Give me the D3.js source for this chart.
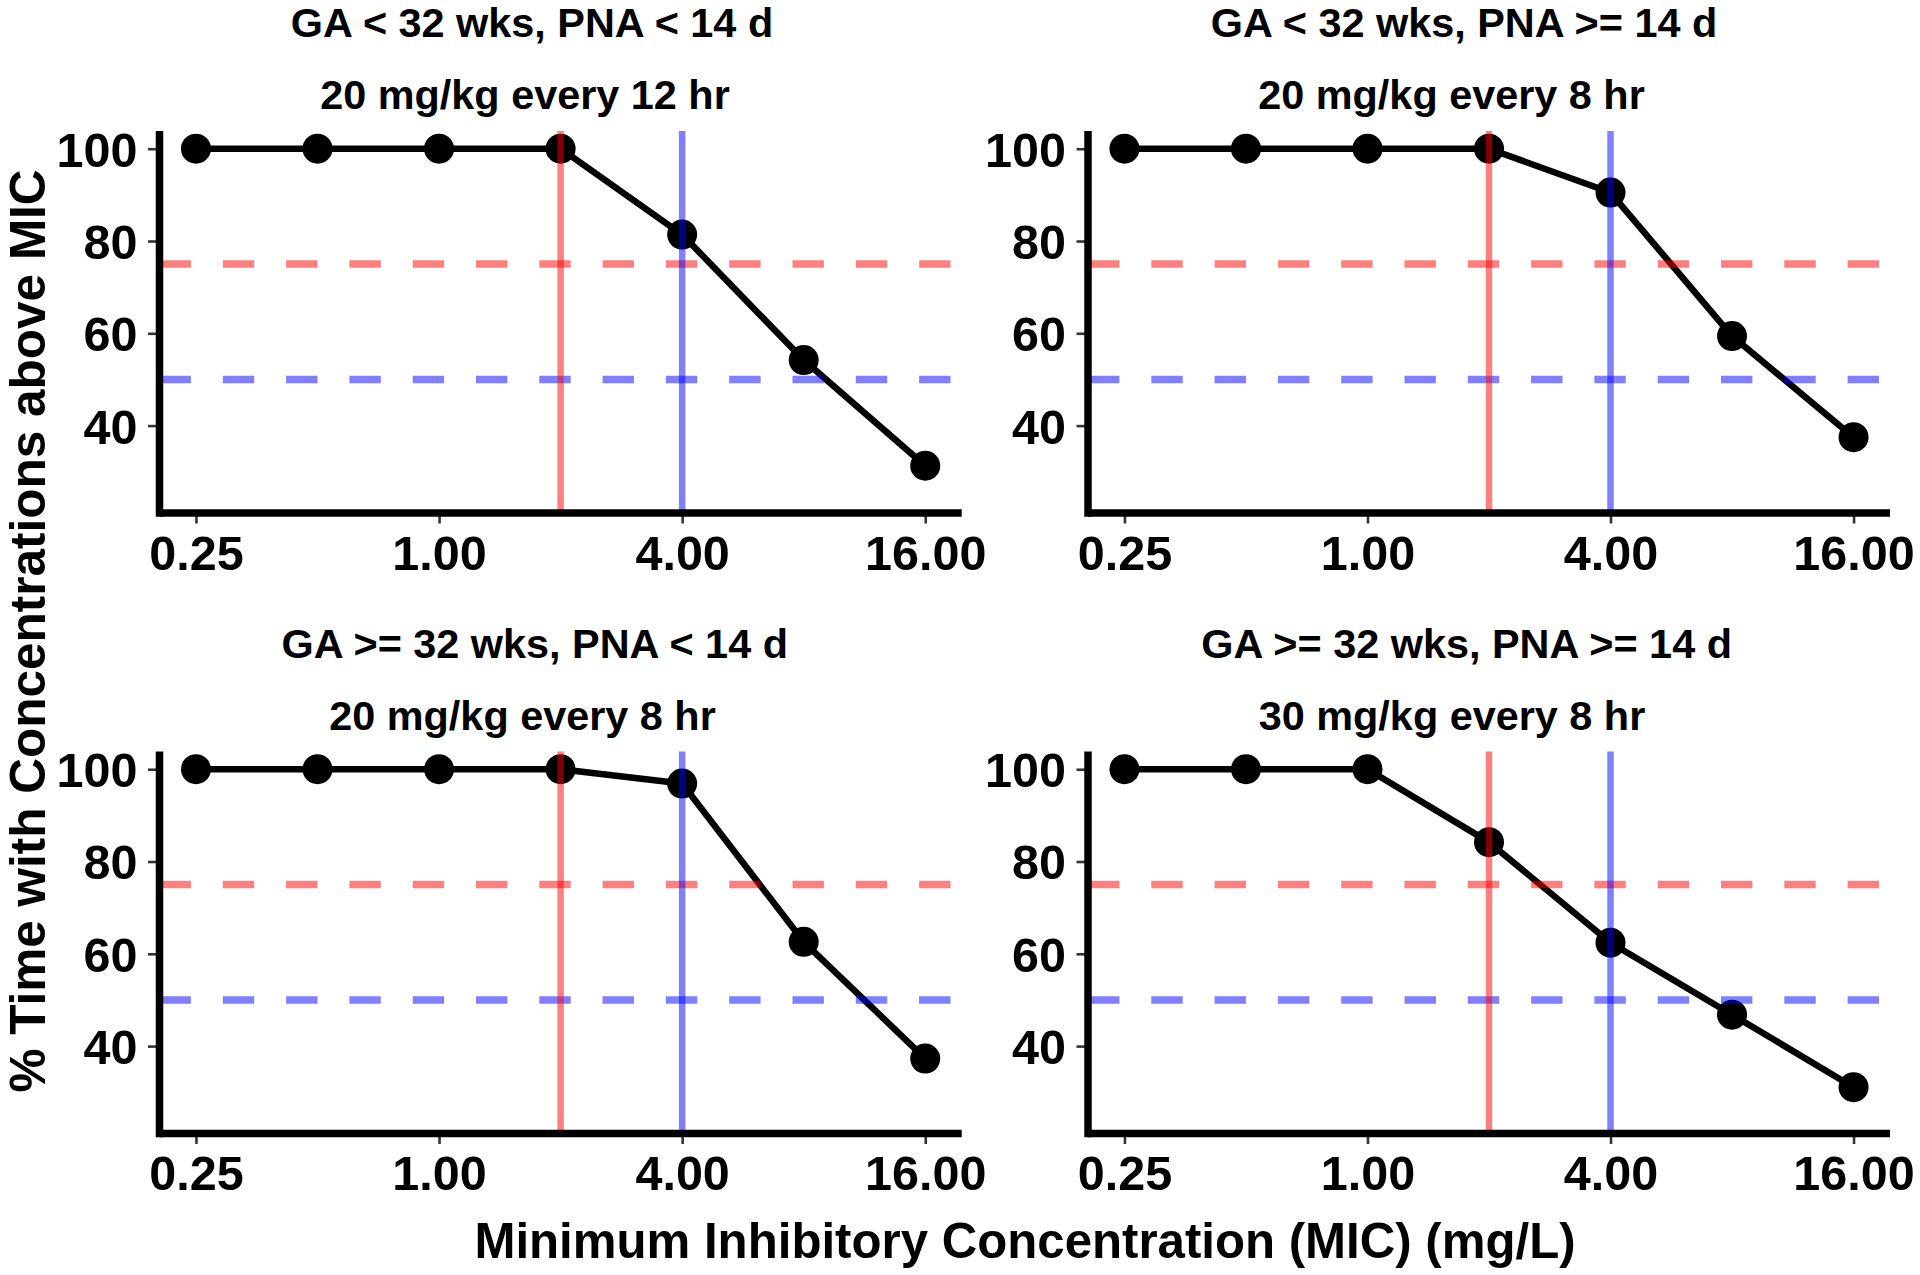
<!DOCTYPE html>
<html>
<head>
<meta charset="utf-8">
<script src="https://cdn.jsdelivr.net/npm/d3@7"></script>
<style>
  html, body { margin: 0; padding: 0; background: #ffffff; }
  svg { display: block; }
  text { font-family: "Liberation Sans", Arial, sans-serif; font-weight: bold; fill: #000; }
</style>
</head>
<body>
<svg id="chart" width="1920" height="1275"></svg>
<script>
// ---- data ----
const micValues = [0.25, 0.5, 1, 2, 4, 8, 16];
const groupTitles = ["GA < 32 wks, PNA < 14 d", "GA < 32 wks, PNA >= 14 d",
                     "GA >= 32 wks, PNA < 14 d", "GA >= 32 wks, PNA >= 14 d"];
const doseTitles = ["20 mg/kg every 12 hr", "20 mg/kg every 8 hr",
                    "20 mg/kg every 8 hr", "30 mg/kg every 8 hr"];
const pctGroup1 = [100, 100, 100, 100, 81.4, 54.2, 31.3];
const pctGroup2 = [100, 100, 100, 100, 90.5, 59.4, 37.5];
const pctGroup3 = [100, 100, 100, 100, 96.9, 62.6, 37.3];
const pctGroup4 = [100, 100, 100, 84.2, 62.4, 46.8, 31.1];
const xTickValues = [0.25, 1, 4, 16];
const xTickLabels = ["0.25", "1.00", "4.00", "16.00"];
const yTickValues = [40, 60, 80, 100];
const targetMIC = [2, 4];          // vertical reference lines
const targetPct = [75, 50];        // horizontal reference lines
const refColors = ["#ff0000", "#0000ff"];
const xTitle = "Minimum Inhibitory Concentration (MIC) (mg/L)";
const yTitle = "% Time with Concentrations above MIC";

const series = [pctGroup1, pctGroup2, pctGroup3, pctGroup4];

// ---- layout ----
const svg = d3.select("#chart");
const colX = [[159.5, 961.7], [1088, 1890]];
const rowY = [[131, 513], [751.5, 1133.5]];
const title1X = [532, 1464, 534.7, 1466.6];
const title2X = [525, 1451.5, 522.5, 1452];

const xDomain = [Math.pow(2, -2.3), Math.pow(2, 4.3)];
const yDomain = [21.06, 103.84];

series.forEach((vals, i) => {
  const col = i % 2, row = Math.floor(i / 2);
  const [x0, x1] = colX[col];
  const [y0, y1] = rowY[row];
  const x = d3.scaleLog().base(2).domain(xDomain).range([x0, x1]);
  const y = d3.scaleLinear().domain(yDomain).range([y1, y0]);
  const g = svg.append("g");

  // titles
  g.append("text").attr("x", title1X[i]).attr("y", y0 - 94)
    .attr("text-anchor", "middle").style("font-size", "41.4px").text(groupTitles[i]);
  g.append("text").attr("x", title2X[i]).attr("y", y0 - 22)
    .attr("text-anchor", "middle").style("font-size", "41.4px").text(doseTitles[i]);

  const pts = micValues.map((m, k) => ({ m, v: vals[k] }));

  // data line
  g.append("path").datum(pts)
    .attr("fill", "none").attr("stroke", "#000").attr("stroke-width", 6.5)
    .attr("stroke-linejoin", "round")
    .attr("d", d3.line().x(d => x(d.m)).y(d => y(d.v)));
  // points
  g.selectAll("circle.pt").data(pts).enter().append("circle")
    .attr("class", "pt").attr("cx", d => x(d.m)).attr("cy", d => y(d.v))
    .attr("r", 15).attr("fill", "#000");

  // horizontal dashed reference lines
  targetPct.forEach((p, k) => {
    g.append("line").attr("x1", x0).attr("x2", x1).attr("y1", y(p)).attr("y2", y(p))
      .attr("stroke", refColors[k]).attr("stroke-opacity", 0.5)
      .attr("stroke-width", 7.5).attr("stroke-dasharray", "31.4,31.9");
  });
  // vertical reference lines
  targetMIC.forEach((m, k) => {
    g.append("line").attr("x1", x(m)).attr("x2", x(m)).attr("y1", y0).attr("y2", y1)
      .attr("stroke", refColors[k]).attr("stroke-opacity", 0.5).attr("stroke-width", 6.5);
  });

  // y axis
  const ya = g.append("g").attr("transform", `translate(${x0},0)`)
    .call(d3.axisLeft(y).tickValues(yTickValues).tickFormat(d3.format("d"))
      .tickSize(11.5).tickPadding(10.5));
  ya.select(".domain").remove();
  ya.selectAll(".tick line").attr("stroke", "#333333").attr("stroke-width", 2.6);
  ya.selectAll(".tick text").attr("dy", "0.36em")
    .style("font-size", "48.5px").style("font-family", "'Liberation Sans', Arial, sans-serif")
    .style("font-weight", "bold").attr("fill", "#000");

  // x axis
  const xa = g.append("g").attr("transform", `translate(0,${y1})`)
    .call(d3.axisBottom(x).tickValues(xTickValues)
      .tickFormat((d, k) => xTickLabels[k]).tickSize(10.5).tickPadding(12));
  xa.select(".domain").remove();
  xa.selectAll(".tick line").attr("stroke", "#333333").attr("stroke-width", 2.6);
  xa.selectAll(".tick text")
    .style("font-size", "48.5px").style("font-family", "'Liberation Sans', Arial, sans-serif")
    .style("font-weight", "bold").attr("fill", "#000");

  // axis lines
  g.append("line").attr("x1", x0).attr("x2", x0).attr("y1", y0).attr("y2", y1 + 3.75)
    .attr("stroke", "#000").attr("stroke-width", 7.5);
  g.append("line").attr("x1", x0).attr("x2", x1).attr("y1", y1).attr("y2", y1)
    .attr("stroke", "#000").attr("stroke-width", 7.5);
});

// global axis titles
svg.append("text").attr("x", 1025).attr("y", 1257.5)
  .attr("text-anchor", "middle").style("font-size", "49.2px").text(xTitle);
svg.append("text").attr("transform", "translate(45,631) rotate(-90)")
  .attr("text-anchor", "middle").style("font-size", "49.5px").text(yTitle);
</script>
</body>
</html>
